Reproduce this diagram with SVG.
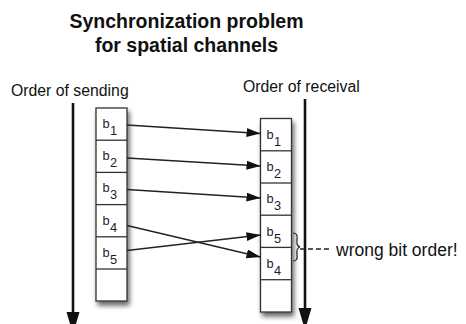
<svg xmlns="http://www.w3.org/2000/svg" width="466" height="324" viewBox="0 0 466 324">
<defs>
<filter id="sh" x="-50%" y="-20%" width="200%" height="140%">
<feGaussianBlur in="SourceAlpha" stdDeviation="2.5"/>
<feOffset dx="2" dy="4" result="b"/>
<feComponentTransfer><feFuncA type="linear" slope="0.6"/></feComponentTransfer>
<feMerge><feMergeNode/><feMergeNode in="SourceGraphic"/></feMerge>
</filter>
<marker id="ah" markerUnits="userSpaceOnUse" markerWidth="15" markerHeight="10" refX="14" refY="4.5" orient="auto">
<path d="M0,0 L14,4.5 L0,9 Z" fill="#111"/>
</marker>
</defs>
<style>
text{font-family:"Liberation Sans",Arial,Helvetica,sans-serif;fill:#111}
.title{font-size:19.5px;font-weight:bold;text-anchor:middle}
.lab{font-size:15.8px}
.b{font-size:12.8px;fill:#1c1c30}
.box{fill:#fff;stroke:#333;stroke-width:1.3}
.cell{stroke:#333;stroke-width:1.3}
.axis{stroke:#111;stroke-width:2.6;fill:none}
.con{stroke:#222;stroke-width:1.3;fill:none;marker-end:url(#ah)}
</style>
<rect width="466" height="324" fill="#fff"/>
<g id="title">
<text class="title" x="186.5" y="27.5">Synchronization problem</text>
<text class="title" x="186.5" y="52">for spatial channels</text>
</g>
<g id="send-axis">
<text class="lab" x="11" y="96">Order of sending</text>
<line class="axis" x1="73" y1="103" x2="73" y2="314"/>
<polygon points="66.5,312 79.5,312 73,334" fill="#111"/>
</g>
<g id="recv-axis">
<text class="lab" x="243" y="92">Order of receival</text>
<line class="axis" x1="305" y1="99" x2="305" y2="310"/>
<polygon points="298.5,308 311.5,308 305,330" fill="#111"/>
</g>
<g id="sender">
<rect class="box" x="96" y="108" width="31" height="193" filter="url(#sh)"/>
<line class="cell" x1="96" y1="140.2" x2="127" y2="140.2"/>
<line class="cell" x1="96" y1="172.4" x2="127" y2="172.4"/>
<line class="cell" x1="96" y1="204.6" x2="127" y2="204.6"/>
<line class="cell" x1="96" y1="236.8" x2="127" y2="236.8"/>
<line class="cell" x1="96" y1="269" x2="127" y2="269"/>
<text class="b" x="102.5" y="128">b</text><text class="b" x="110" y="135">1</text>
<text class="b" x="102.5" y="160">b</text><text class="b" x="110" y="167">2</text>
<text class="b" x="102.5" y="192">b</text><text class="b" x="110" y="199">3</text>
<text class="b" x="102.5" y="224.5">b</text><text class="b" x="110" y="231.5">4</text>
<text class="b" x="102.5" y="256.5">b</text><text class="b" x="110" y="263.5">5</text>
</g>
<g id="receiver">
<rect class="box" x="260.5" y="118.5" width="31" height="193.5" filter="url(#sh)"/>
<line class="cell" x1="260.5" y1="150.8" x2="291.5" y2="150.8"/>
<line class="cell" x1="260.5" y1="183" x2="291.5" y2="183"/>
<line class="cell" x1="260.5" y1="215.2" x2="291.5" y2="215.2"/>
<line class="cell" x1="260.5" y1="247.4" x2="291.5" y2="247.4"/>
<line class="cell" x1="260.5" y1="279.7" x2="291.5" y2="279.7"/>
<text class="b" x="266.5" y="139">b</text><text class="b" x="274" y="146">1</text>
<text class="b" x="266.5" y="171">b</text><text class="b" x="274" y="178">2</text>
<text class="b" x="266.5" y="203">b</text><text class="b" x="274" y="210">3</text>
<text class="b" x="266.5" y="235.5">b</text><text class="b" x="274" y="242.5">5</text>
<text class="b" x="266.5" y="267.5">b</text><text class="b" x="274" y="274.5">4</text>
</g>
<g id="connectors">
<line class="con" x1="127" y1="125" x2="260.5" y2="133.5"/>
<line class="con" x1="127" y1="158" x2="260.5" y2="166"/>
<line class="con" x1="127" y1="189.5" x2="260.5" y2="198"/>
<line class="con" x1="127" y1="225.5" x2="260.5" y2="257"/>
<line class="con" x1="127" y1="250.5" x2="260.5" y2="235"/>
</g>
<g id="annotation">
<path d="M293,233 Q298,233 297,239 Q296,246 300,247 Q296,248 297,255 Q298,261 293,261" fill="none" stroke="#222" stroke-width="1.2"/>
<line x1="300" y1="249" x2="331" y2="249" stroke="#222" stroke-width="1.3" stroke-dasharray="5,3"/>
<text x="336" y="256" style="font-size:17.5px">wrong bit order!</text>
</g>
</svg>
